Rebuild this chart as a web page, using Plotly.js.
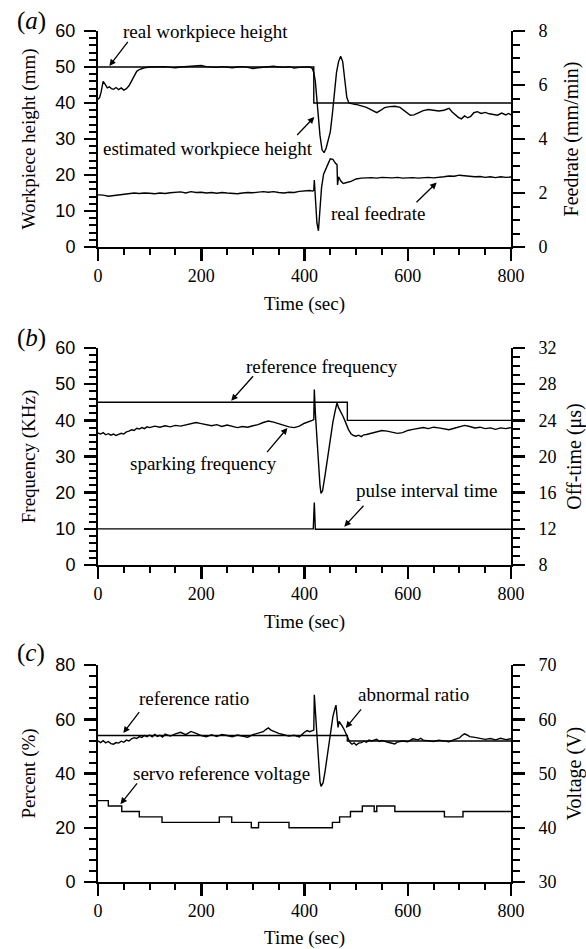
<!DOCTYPE html>
<html>
<head>
<meta charset="utf-8">
<script src="https://cdn.plot.ly/plotly-3.0.1.min.js"></script>
<style>html,body{margin:0;padding:0;background:#fff;}#chart{width:586px;height:949px;}</style>
</head>
<body>
<div id="chart"></div>
<script>
// ---------- Panel (a) ----------
const realHeightT = [0, 418, 800];
const realHeightV = [50, 40, 40];
const estHeightT = [0,3,6,10,14,18,22,26,30,35,40,45,50,55,60,65,70,75,80,85,90,100,110,120,130,140,150,160,170,180,190,200,210,220,230,240,250,260,270,280,290,300,310,320,330,340,350,360,370,380,390,400,410,415,418,421,424,427,430,434,438,442,446,450,454,458,462,466,470,474,478,482,486,490,495,500,505,510,520,530,540,548,555,565,575,585,595,605,612,620,630,640,650,660,670,680,686,692,698,704,710,716,722,728,735,742,750,758,766,774,782,790,795,800];
const estHeightV = [41,41.5,43,46,45.2,44.2,44.5,44,43.8,44.3,43.7,44.2,43.6,44,44.8,46,47.5,48.8,49.3,49.6,49.8,50,50.1,50,50.1,49.9,49.8,50,50.1,50,50.2,50.4,50.1,50,49.9,50.1,50,49.8,50,50.1,49.9,49.6,49.8,50,50.1,50.2,50,49.9,50.1,49.7,49.9,50,50,49.6,48.5,46,41,36,31,27,26.2,27.5,29.5,32,37,43,48.5,51.5,53,51.5,46,41.5,40,39.8,39.7,39.6,39.5,39.2,38.8,38,37.3,38,38.7,39,39.1,38.8,37.8,36.6,36.7,37.3,37.9,38.2,38,37.8,38,38.5,37.5,36.8,36,35.6,36.4,35.9,36.3,37.3,37.6,37.1,37.4,37,36.8,36.6,37.2,36.7,37.1,36.7];
const feedT = [0,10,20,30,40,50,60,70,80,90,100,110,120,130,140,150,160,170,180,190,200,210,220,230,240,250,260,270,280,290,300,310,320,330,340,350,360,370,380,390,400,410,416,418,419,421,424,427,430,433,437,441,445,450,455,460,463,464,466,470,475,480,485,490,495,500,510,520,530,540,550,560,570,580,590,600,610,620,630,640,650,660,670,680,690,700,710,720,730,740,750,760,770,780,790,800];
const feedV = [1.93,1.92,1.88,1.9,1.93,1.95,1.97,2.0,1.98,2.0,1.99,1.97,2.0,1.98,2.01,2.02,2.04,2.0,2.05,2.02,2.03,2.0,2.02,1.99,2.02,2.0,1.98,1.97,2.0,2.02,2.01,2.04,2.05,2.03,2.05,2.02,2.0,2.03,2.02,2.06,2.08,2.09,2.07,2.1,2.48,1.9,0.9,0.6,1.3,2.2,2.7,2.9,3.05,3.27,3.25,3.1,3.05,2.3,2.6,2.45,2.35,2.38,2.4,2.43,2.48,2.52,2.55,2.56,2.57,2.55,2.58,2.57,2.56,2.58,2.55,2.56,2.57,2.55,2.56,2.58,2.56,2.57,2.6,2.63,2.62,2.66,2.64,2.62,2.6,2.61,2.58,2.6,2.57,2.6,2.58,2.59];

// ---------- Panel (b) ----------
const refFreqT = [0, 483, 800];
const refFreqV = [45, 40, 40];
const sparkT = [0,5,10,15,20,25,30,35,40,45,50,55,60,65,70,75,80,85,90,95,100,110,120,130,140,150,160,170,180,190,200,210,220,230,240,250,260,270,280,290,300,310,320,330,340,350,360,370,380,390,400,410,415,418,419,421,424,427,430,432,435,440,445,450,455,460,463,466,470,475,480,485,490,495,500,505,510,515,520,530,540,550,560,570,580,590,600,610,620,630,640,650,660,670,680,690,700,710,720,730,740,750,760,770,780,790,800];
const sparkV = [36.5,36.2,36.6,36.0,36.3,35.9,36.2,35.8,36.1,36.4,36.2,36.8,37.0,37.4,37.2,37.8,37.6,38.0,37.7,38.2,38.0,38.4,38.1,38.5,38.2,38.6,38.4,38.8,39.0,39.4,39.1,38.9,38.5,38.8,38.3,38.7,38.4,38.0,38.3,38.1,38.5,38.8,39.4,39.8,39.5,39.0,38.7,38.2,38.0,38.4,39.2,39.6,40.0,40.2,48.5,42,35,28,22,19.8,20.5,25,30,35,39.5,43,44.8,43.5,42.5,41,39.3,37.5,36.3,35.8,35.6,35.9,35.5,36.0,36.1,36.4,36.8,37.2,37.0,36.8,36.4,36.6,37.2,37.5,37.8,38.0,37.7,38.1,37.9,37.6,37.4,37.8,38.2,38.6,38.3,37.9,38.1,37.7,37.9,37.5,37.9,37.7,38.0];
const pulseT = [0, 417, 419, 421, 800];
const pulseV = [12, 12, 14.9, 11.95, 11.95];

// ---------- Panel (c) ----------
const refRatioT = [0, 483, 800];
const refRatioV = [54, 52, 52];
const abnT = [0,5,10,15,20,25,30,35,40,45,50,55,60,65,70,75,80,85,90,95,100,105,110,115,120,125,130,140,150,160,170,180,190,200,210,220,230,240,250,260,270,280,290,300,310,320,325,330,335,340,350,360,370,380,390,400,405,410,415,418,419,421,424,427,430,432,436,440,445,450,455,459,461,463,465,467,470,473,476,480,484,488,492,496,500,505,510,515,520,525,530,540,545,550,560,570,575,580,590,600,610,620,625,630,640,650,660,670,680,690,700,705,710,715,720,730,740,750,760,770,780,790,800];
const abnV = [52.0,51.4,52.1,51.3,51.8,51.0,50.8,51.4,51.2,51.9,51.5,52.3,52.0,52.8,53.2,52.9,53.6,53.3,54.0,53.6,54.2,53.5,54.4,53.7,54.1,53.4,54.5,53.8,54.6,55.2,54.3,55.5,54.8,54.0,53.5,54.3,53.6,54.4,54.0,53.5,54.2,53.7,53.4,54.3,54.8,55.4,56.2,56.8,56.0,55.6,54.8,54.3,53.8,54.1,53.5,55.2,55.8,55.4,55.9,56.0,69.0,63,52,43,37,35.3,36.5,41,48,55,61,64,65.2,61,57,59.2,58.5,57.5,56.5,55.0,53.3,51.5,50.8,51.3,50.5,51.2,51.4,51.9,51.5,52.3,52.0,52.6,51.8,52.2,51.6,51.3,50.9,51.6,52.0,51.7,52.8,52.4,53.0,52.3,52.0,51.8,52.3,52.0,51.7,52.5,53.1,54.0,54.6,54.2,53.6,53.3,53.0,52.6,52.9,52.4,53.0,52.5,52.8];
const servoT = [0,20,46,80,124,235,259,297,311,370,454,468,489,512,535,540,575,671,707,800];
const servoV = [45,44,43,42,41,42,41,40,41,40,41,42,43,44,43,44,43,42,43,43];

// ---------- Text ----------
const panelLabels = ['(<i>a</i>)', '(<i>b</i>)', '(<i>c</i>)'];
const xTitle = 'Time (sec)';
const leftTitles = ['Workpiece height (mm)', 'Frequency (KHz)', 'Percent (%)'];
const rightTitles = ['Feedrate (mm/min)', 'Off-time (μs)', 'Voltage (V)'];

// ---------- Styling ----------
const SERIF = 'Liberation Serif, Times New Roman, serif';
const SANS = 'Liberation Sans, Arial, sans-serif';
const LINE = {color: '#000', width: 1.4};
const AX = {showline: true, linewidth: 2, linecolor: '#000', showgrid: false, zeroline: false,
  ticks: 'outside', ticklen: 12, tickwidth: 2.5, tickcolor: '#000', fixedrange: true};

function xAx(anchor) {
  return Object.assign({}, AX, {
    domain: [0, 1], anchor: anchor, range: [0, 800], tick0: 0, dtick: 200,
    minor: {ticks: 'outside', ticklen: 6, tickwidth: 2, tickcolor: '#000', dtick: 50, tick0: 0, showgrid: false},
    tickfont: {family: SERIF, size: 18, color: '#000'}, ticklabelstandoff: -1,
    title: {text: xTitle, font: {family: SERIF, size: 19, color: '#000'}, standoff: 12}
  });
}
function yLeft(domain, anchor, range, dtick, mdtick, title) {
  return Object.assign({}, AX, {
    domain: domain, anchor: anchor, range: range, dtick: dtick, tick0: range[0],
    minor: {ticks: 'outside', ticklen: 7, tickwidth: 2, tickcolor: '#000', dtick: mdtick, tick0: range[0], showgrid: false},
    tickfont: {family: SANS, size: 18, color: '#000'}, ticklabelstandoff: 5,
    title: {text: title, font: {family: SERIF, size: 19, color: '#000'}, standoff: 15}
  });
}
function yRight(overlay, anchor, range, dtick, mdtick, title) {
  return Object.assign({}, AX, {
    overlaying: overlay, side: 'right', anchor: anchor, range: range, dtick: dtick, tick0: range[0],
    minor: {ticks: 'outside', ticklen: 7, tickwidth: 2, tickcolor: '#000', dtick: mdtick, tick0: range[0], showgrid: false},
    tickfont: {family: SERIF, size: 18, color: '#000'}, ticklabelstandoff: 10,
    title: {text: title, font: {family: SERIF, size: 20, color: '#000'}, standoff: 17}
  });
}

const traces = [
  {x: realHeightT, y: realHeightV, xaxis: 'x', yaxis: 'y', mode: 'lines', line: Object.assign({shape: 'hv'}, LINE), name: 'real workpiece height'},
  {x: estHeightT, y: estHeightV, xaxis: 'x', yaxis: 'y', mode: 'lines', line: LINE, name: 'estimated workpiece height'},
  {x: feedT, y: feedV, xaxis: 'x', yaxis: 'y2', mode: 'lines', line: LINE, name: 'real feedrate'},
  {x: refFreqT, y: refFreqV, xaxis: 'x2', yaxis: 'y3', mode: 'lines', line: Object.assign({shape: 'hv'}, LINE), name: 'reference frequency'},
  {x: sparkT, y: sparkV, xaxis: 'x2', yaxis: 'y3', mode: 'lines', line: LINE, name: 'sparking frequency'},
  {x: pulseT, y: pulseV, xaxis: 'x2', yaxis: 'y4', mode: 'lines', line: LINE, name: 'pulse interval time'},
  {x: refRatioT, y: refRatioV, xaxis: 'x3', yaxis: 'y5', mode: 'lines', line: Object.assign({shape: 'hv'}, LINE), name: 'reference ratio'},
  {x: abnT, y: abnV, xaxis: 'x3', yaxis: 'y5', mode: 'lines', line: LINE, name: 'abnormal ratio'},
  {x: servoT, y: servoV, xaxis: 'x3', yaxis: 'y6', mode: 'lines', line: Object.assign({shape: 'hv'}, LINE), name: 'servo reference voltage'}
];

function label(xr, yr, x, y, text) {
  return {xref: xr, yref: yr, x: x, y: y, text: text, showarrow: false,
    font: {family: SERIF, size: 19, color: '#000'}, xanchor: 'center', yanchor: 'middle'};
}
function arrow(xr, yr, x, y, ax, ay) {
  return {xref: xr, yref: yr, axref: xr, ayref: yr, x: x, y: y, ax: ax, ay: ay, text: '',
    showarrow: true, arrowhead: 2, arrowsize: 1, arrowwidth: 1.3, arrowcolor: '#000', standoff: 0, startstandoff: 0};
}
function plabel(y, text) {
  return {xref: 'paper', yref: 'paper', x: -67/413, y: y, text: text, showarrow: false,
    font: {family: SERIF, size: 25, color: '#000'}, xanchor: 'center', yanchor: 'middle'};
}

const annotations = [
  label('x', 'y', 209, 60, 'real workpiece height'),
  arrow('x', 'y', 22, 50.3, 60, 57.4),
  label('x', 'y', 213, 27.3, 'estimated workpiece height'),
  arrow('x', 'y', 419, 36.1, 383, 30.7),
  label('x', 'y', 542, 9.2, 'real feedrate'),
  arrow('x', 'y', 656, 17.9, 614, 12),
  label('x2', 'y3', 433, 55.0, 'reference frequency'),
  arrow('x2', 'y3', 258, 45.4, 303, 52.6),
  label('x2', 'y3', 205, 28.1, 'sparking frequency'),
  arrow('x2', 'y3', 367, 37.9, 325, 30.8),
  label('x2', 'y3', 636, 20.5, 'pulse interval time'),
  arrow('x2', 'y3', 477, 10.6, 517, 16.8),
  label('x3', 'y5', 185.5, 67.5, 'reference ratio'),
  arrow('x3', 'y5', 49, 54.9, 82, 63.2),
  label('x3', 'y5', 611, 69.1, 'abnormal ratio'),
  arrow('x3', 'y5', 480, 56.8, 512, 64.2),
  label('x3', 'y5', 239, 40, 'servo reference voltage'),
  arrow('x3', 'y5', 43.5, 28.7, 78, 36.9),
  plabel((882 - 21) / 851, panelLabels[0]),
  plabel((882 - 338) / 851, panelLabels[1]),
  plabel((882 - 653) / 851, panelLabels[2])
];

const layout = {
  width: 586, height: 949,
  margin: {l: 98, r: 75, t: 31, b: 67, pad: 0},
  paper_bgcolor: '#fff', plot_bgcolor: '#fff',
  showlegend: false,
  xaxis: xAx('y'),
  yaxis: yLeft([(882 - 247) / 851, 1], 'x', [0, 60], 10, 2, leftTitles[0]),
  yaxis2: yRight('y', 'x', [0, 8], 2, 0.5, rightTitles[0]),
  xaxis2: xAx('y3'),
  yaxis3: yLeft([(882 - 565) / 851, (882 - 348) / 851], 'x2', [0, 60], 10, 2, leftTitles[1]),
  yaxis4: yRight('y3', 'x2', [8, 32], 4, 1, rightTitles[1]),
  xaxis3: xAx('y5'),
  yaxis5: yLeft([0, (882 - 665) / 851], 'x3', [0, 80], 20, 4, leftTitles[2]),
  yaxis6: yRight('y5', 'x3', [30, 70], 10, 2, rightTitles[2]),
  annotations: annotations
};

Plotly.newPlot('chart', traces, layout, {displayModeBar: false, staticPlot: true});
</script>
</body>
</html>
